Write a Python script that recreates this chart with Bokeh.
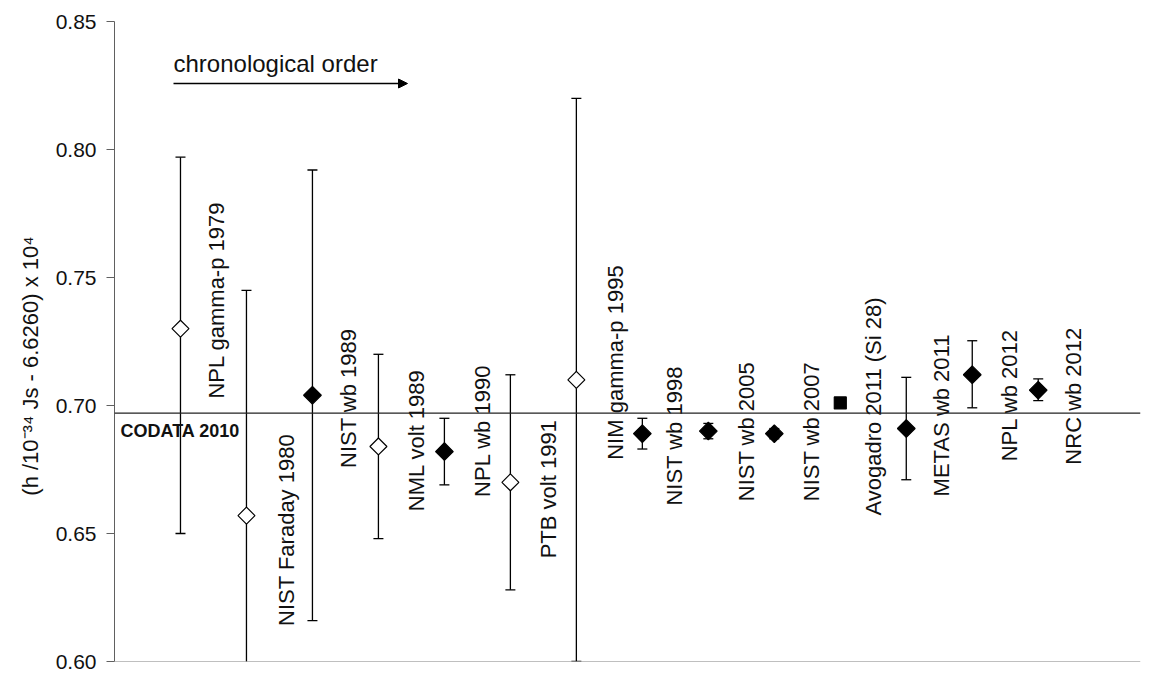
import math
from bokeh.plotting import figure
from bokeh.models import (ColumnDataSource, Range1d, FixedTicker, Span, Label,
                          Whisker, TeeHead, Arrow, NormalHead, NumeralTickFormatter)
from bokeh.core.properties import value
from bokeh.embed import file_html
from bokeh.resources import INLINE

# ---------------- data ----------------
names = ["NPL gamma-p 1979", "NIST Faraday 1980", "NIST wb 1989", "NML volt 1989",
         "NPL wb 1990", "PTB volt 1991", "NIM gamma-p 1995", "NIST wb 1998",
         "NIST wb 2005", "NIST wb 2007", "Avogadro 2011 (Si 28)", "METAS wb 2011",
         "NPL wb 2012", "NRC wb 2012"]
order = list(range(1, 15))
h_values = [0.730, 0.657, 0.704, 0.684, 0.682, 0.670, 0.710, 0.689,
            0.690, 0.689, 0.701, 0.691, 0.712, 0.706]
err_upper = [0.797, 0.745, 0.792, 0.720, 0.695, 0.712, 0.820, 0.695,
             0.693, 0.691, 0.7025, 0.711, 0.7253, 0.7104]
err_lower = [0.650, 0.569, 0.616, 0.648, 0.669, 0.628, 0.600, 0.683,
             0.687, 0.687, 0.6995, 0.671, 0.6991, 0.7019]
method = ["other", "other", "wb", "other", "wb", "other", "other", "wb",
          "wb", "wb", "avogadro", "wb", "wb", "wb"]
codata_2010 = 0.697
y_ticks = [0.60, 0.65, 0.70, 0.75, 0.80, 0.85]
y_title = "(h /10\u207b\u00b3\u2074 Js - 6.6260) x 10\u2074"

# label placement (annotation layout)
label_dx = [0.54, 0.61, 0.55, 0.58, 0.57, 0.58, 0.60, 0.48, 0.58, 0.57, 0.50, 0.54, 0.57, 0.54]
label_y0 = [0.7027, 0.6139, 0.6756, 0.6587, 0.6643, 0.6403, 0.6788, 0.6609,
            0.6626, 0.6626, 0.6570, 0.6645, 0.6782, 0.6769]

# ---------------- layout ----------------
FONT = "Liberation Sans"
X_END = 15.55
FRAME_W, FRAME_H = 1026, 640
BL, BR, BT, BB = 114, 10, 21, 13
pxx = FRAME_W / X_END
pxy = FRAME_H / 0.25

p = figure(width=BL + FRAME_W + BR, height=BT + FRAME_H + BB,
           x_range=Range1d(0, X_END), y_range=Range1d(0.60, 0.85),
           output_backend="svg", toolbar_location=None,
           min_border_left=BL, min_border_right=BR, min_border_top=BT, min_border_bottom=BB)
p.outline_line_color = None
p.grid.visible = False
p.xaxis.visible = False

ya = p.yaxis[0]
ya.ticker = FixedTicker(ticks=y_ticks)
ya.formatter = NumeralTickFormatter(format="0.00")
ya.major_tick_in = 0
ya.major_tick_out = 8
ya.minor_tick_line_color = None
ya.axis_line_color = "#606060"
ya.major_tick_line_color = "#606060"
ya.major_label_text_font = FONT
ya.major_label_text_font_size = "21px"
ya.major_label_text_color = "#111111"
ya.major_label_standoff = 10
ya.axis_label = y_title + "\u00a0" * 8
ya.axis_label_text_font = FONT
ya.axis_label_text_font_size = "22px"
ya.axis_label_text_font_style = "normal"
ya.axis_label_text_color = "#111111"
ya.axis_label_standoff = 10

# bottom axis line
p.add_layout(Span(location=0.60, dimension="width", line_color="#808080", line_width=1.2))
# CODATA reference line
p.add_layout(Span(location=codata_2010, dimension="width", line_color="#222222", line_width=1.2))

src = ColumnDataSource(dict(
    x=order, y=h_values, upper=err_upper, lower=err_lower, name=names,
    lx=[o + d for o, d in zip(order, label_dx)], ly=label_y0,
    fill=["white" if m == "other" else "black" for m in method],
    size=[12 if m == "other" else (12 if m == "avogadro" else 12.5) for m in method],
    angle=[0 if m == "avogadro" else math.pi / 4 for m in method],
))

wh = Whisker(source=src, base="x", upper="upper", lower="lower",
             line_color="black", line_width=1.3, level="underlay",
             upper_head=TeeHead(size=10, line_color="black", line_width=1.3),
             lower_head=TeeHead(size=10, line_color="black", line_width=1.3))
p.add_layout(wh)

p.scatter("x", "y", source=src, marker="square", size="size", angle="angle",
          fill_color="fill", line_color="black", line_width=1.2)

p.text("lx", "ly", text="name", source=src, angle=math.pi / 2,
       text_align="left", text_baseline="alphabetic",
       text_font=value(FONT), text_font_size="22px", text_color="#111111")

# CODATA label
p.add_layout(Label(x=6 / pxx, y=codata_2010 - 18 / pxy, text="CODATA 2010",
                   text_font=FONT, text_font_size="18px", text_font_style="bold",
                   text_color="#111111", text_baseline="alphabetic"))

# chronological order annotation
p.add_layout(Label(x=59 / pxx, y=0.85 - 42 / pxy, text="chronological order",
                   text_font=FONT, text_font_size="24px", text_color="#111111",
                   text_baseline="alphabetic"))
p.add_layout(Arrow(x_start=59 / pxx, y_start=0.85 - 62 / pxy,
                   x_end=293 / pxx, y_end=0.85 - 62 / pxy,
                   line_color="black", line_width=1.5,
                   end=NormalHead(size=9, fill_color="black", line_color="black")))

open("out.html", "w").write(file_html(p, INLINE))
